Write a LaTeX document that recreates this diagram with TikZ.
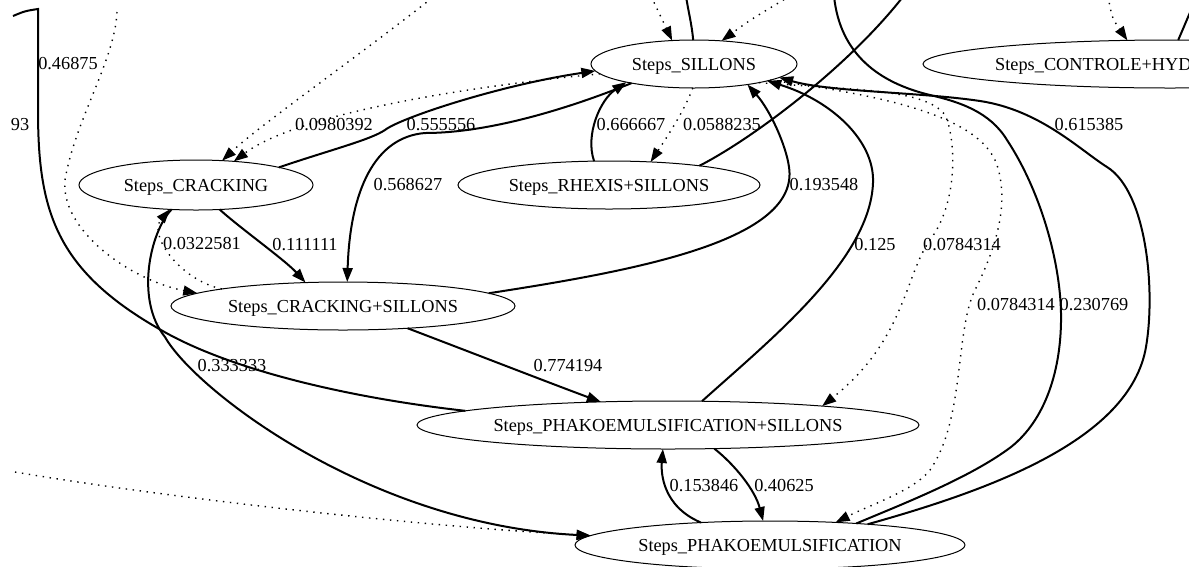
\documentclass[tikz,border=0pt]{standalone}
\usepackage{fontspec}
\setmainfont{Liberation Serif}
\usetikzlibrary{shapes.geometric,arrows.meta}
\begin{document}
\begin{tikzpicture}[x=1pt,y=-1pt,
  labelfont/.style={font=\fontsize{18.3}{22}\selectfont},
  nd/.style={ellipse, draw, line width=1pt, inner sep=0pt, outer sep=0pt, minimum height=48pt, labelfont, text depth=0pt},
  lbl/.style={inner sep=0pt, labelfont, text depth=0pt},
  arrowtip/.style={-{Triangle[length=14pt,width=10pt]}},
  boldedge/.style={line width=2pt, arrowtip},
  boldplain/.style={line width=2pt},
  dotedge/.style={line width=1.4pt, dash pattern=on 1.4pt off 5.6pt, arrowtip},
  dotplain/.style={line width=1.4pt, dash pattern=on 1.4pt off 5.6pt}]
\path[fill=white] (0,0) rectangle (1189,566);
\useasboundingbox (0,0) rectangle (1189,566);

% nodes
\node[nd, minimum width=206pt] (SIL) at (694,64) {Steps\_SILLONS};
\node[nd, minimum width=234pt, minimum height=50pt] (CR) at (196,185) {Steps\_CRACKING};
\node[nd, minimum width=302pt] (RH) at (609,185) {Steps\_RHEXIS+SILLONS};
\node[nd, minimum width=344pt] (CRS) at (343,306) {Steps\_CRACKING+SILLONS};
\node[nd, minimum width=502pt] (PS) at (668,425) {Steps\_PHAKOEMULSIFICATION+SILLONS};
\node[nd, minimum width=390pt] (PH) at (770,545) {Steps\_PHAKOEMULSIFICATION};
\node[nd, minimum width=494pt] (CT) at (1170,64) {};
\node[lbl, anchor=west] (CTt) at (995,64) {Steps\_CONTROLE+HYD};

% off-image coordinates
\coordinate (T0) at (13,16);
\coordinate (T1) at (432,-2);
\coordinate (T2) at (117,12);
\coordinate (T3) at (834,-4);
\coordinate (T4) at (902,-2);
\coordinate (T5) at (686,-4);
\coordinate (T6) at (651,-4);
\coordinate (T7) at (790,-4);
\coordinate (T8) at (1108,-4);
\coordinate (T9) at (1197,-4);
\coordinate (L1) at (15,472);

% edges
\draw[boldedge] (CR.12) .. controls (330,150) and (370,140) .. (385,130) .. controls (400,118) and (500,85) .. (SIL.184);
\draw[dotedge] (SIL.186) .. controls (480,85) and (300,112) .. (CR.32);
\draw[dotedge] (T1) .. controls (360,55) and (260,125) .. (CR.43);
\draw[boldedge] (SIL.197) .. controls (570,108) and (490,133) .. (425,133) .. controls (375,137) and (350,190) .. (CRS.80);
\draw[boldedge] (RH.122) .. controls (585,135) and (600,100) .. (SIL.195);
\draw[dotedge] (SIL.267) .. controls (685,110) and (665,140) .. (RH.29);
\draw[boldplain] (RH.12) .. controls (750,140) and (845,70) .. (T4);
\draw[boldedge] (CR.-46) .. controls (240,228) and (285,260) .. (CRS.148);
\draw[dotedge] (CRS.172) .. controls (180,280) and (148,235) .. (CR.223);
\draw[dotedge] (T2) .. controls (115,60) and (75,120) .. (65,180) .. controls (60,230) and (130,280) .. (CRS.175);
\draw[boldplain] (T0) .. controls (25,11) .. (38,9) -- (38,110) .. controls (38,210) and (55,270) .. (161,330) .. controls (230,370) and (350,398) .. (PS.176.5);
\draw[boldedge] (CR.225.6) .. controls (150,232) and (135,300) .. (165,337) .. controls (195,390) and (370,525) .. (PH.177);
\draw[dotedge] (L1) .. controls (150,495) and (400,525) .. (PH.177);
\draw[boldedge] (CRS.-19.5) .. controls (470,352) and (555,385) .. (PS.161);
\draw[boldedge] (CRS.5.2) .. controls (640,270) and (800,240) .. (789,167) .. controls (786,145) and (770,110) .. (SIL.-21);
\draw[boldedge] (PS.35.8) .. controls (770,340) and (870,260) .. (873,183) .. controls (875,140) and (830,100) .. (SIL.-13);
\draw[boldedge] (PH.12.4) .. controls (990,490) and (1130,440) .. (1146,347) .. controls (1155.6,291) and (1147,192) .. (1107,167) .. controls (1080,150) and (1040,110) .. (980,101) .. controls (920,92) and (830,92) .. (SIL.-9.7);
\draw[boldplain] (PH.14.65) .. controls (900,505) and (970,478) .. (1011,447) .. controls (1045,420) and (1062,370) .. (1061,313) .. controls (1060,260) and (1040,190) .. (1007,140) .. controls (990,112) and (960,102) .. (930,95) .. controls (880,83) and (840,55) .. (T3);
\draw[dotedge] (SIL.-16) .. controls (850,90) and (925,88) .. (945,115) .. controls (955,135) and (960,200) .. (930,240) .. controls (905,275) and (905,340) .. (PS.7.1);
\draw[dotedge] (SIL.-12) .. controls (880,95) and (980,115) .. (997,165) .. controls (1010,205) and (995,250) .. (975,290) .. controls (955,330) and (965,420) .. (930,470) .. controls (915,490) and (870,505) .. (PH.19.8);
\draw[boldedge] (PH.162.8) .. controls (662,506) and (661,472) .. (PS.258);
\draw[boldedge] (PS.-27.7) .. controls (735,465) and (755,490) .. (PH.106.3);
\draw[boldplain] (SIL.92) .. controls (692,25) and (688,10) .. (T5);
\draw[dotedge] (T6) .. controls (660,15) .. (SIL.133);
\draw[dotedge] (T7) .. controls (750,20) .. (SIL.40);
\draw[dotedge] (T8) .. controls (1112,18) .. (CT.151);
\draw[boldplain] (CT.71.6) -- (T9);

% labels
\node[lbl] (l1) at (68,63) {0.46875};
\node[lbl] (l2) at (20,124) {93};
\node[lbl] (l3) at (334,124) {0.0980392};
\node[lbl] (l4) at (441,124) {0.555556};
\node[lbl] (l5) at (408,184) {0.568627};
\node[lbl] (l6) at (202,243) {0.0322581};
\node[lbl] (l7) at (305,244) {0.111111};
\node[lbl] (l8) at (631,124) {0.666667};
\node[lbl] (l9) at (722,124) {0.0588235};
\node[lbl] (l10) at (824,184) {0.193548};
\node[lbl] (l11) at (875,244) {0.125};
\node[lbl] (l12) at (962,244) {0.0784314};
\node[lbl] (l13) at (1089,124) {0.615385};
\node[lbl] (l14) at (1016,304) {0.0784314};
\node[lbl] (l15) at (1094,304) {0.230769};
\node[lbl] (l16) at (232,365) {0.333333};
\node[lbl] (l17) at (568,365) {0.774194};
\node[lbl] (l18) at (704,485) {0.153846};
\node[lbl] (l19) at (784,485) {0.40625};
\end{tikzpicture}
\end{document}
